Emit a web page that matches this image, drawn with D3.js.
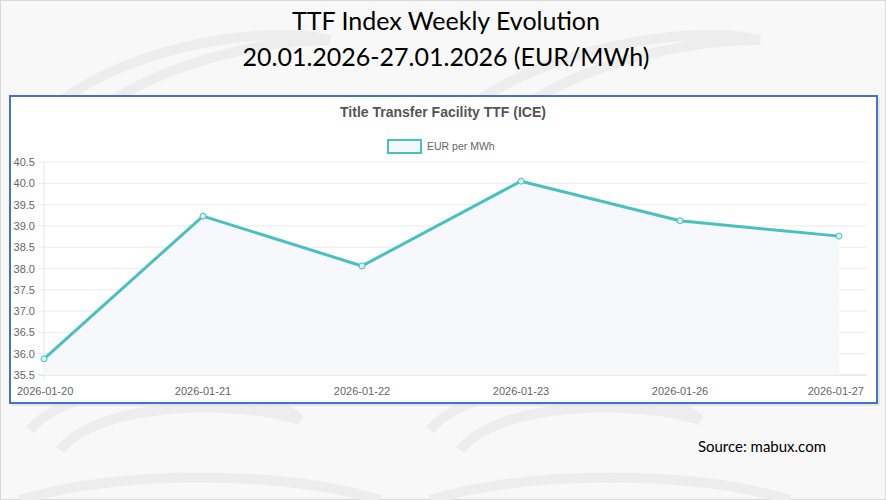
<!DOCTYPE html>
<html>
<head>
<meta charset="utf-8">
<script src="https://cdn.jsdelivr.net/npm/d3@7"></script>
<style>
  body { margin: 0; background: #ffffff; }
  svg { display: block; }
</style>
</head>
<body>
<div id="chart"></div>
<script>
// data
const dates = ["2026-01-20", "2026-01-21", "2026-01-22", "2026-01-23", "2026-01-26", "2026-01-27"];
const values = [35.88, 39.23, 38.06, 40.05, 39.12, 38.76];
const yTicks = [35.5, 36.0, 36.5, 37.0, 37.5, 38.0, 38.5, 39.0, 39.5, 40.0, 40.5];
const seriesName = "EUR per MWh";

const width = 886, height = 500;
const teal = "#4bc0c0";

const svg = d3.select("#chart").append("svg")
  .attr("width", width)
  .attr("height", height);

// slide background
svg.append("rect")
  .attr("x", 0.5).attr("y", 0.5)
  .attr("width", width - 1).attr("height", height - 1)
  .attr("fill", "#f8f8f8")
  .attr("stroke", "#d9d9d9");

// watermark swooshes (the logo letters are left out so they don't sit on the title)
const wm = svg.append("g").attr("fill", "none").attr("stroke", "#ededed").attr("stroke-width", 10);
wm.append("path").attr("d", "M20,150 C60,60 250,20 330,40 C240,40 110,80 70,140");
wm.append("path").attr("d", "M430,150 C480,60 680,20 760,40 C660,40 530,80 490,140");
wm.append("path").attr("d", "M30,430 C80,370 260,380 300,420 C240,400 100,400 60,450");
wm.append("path").attr("d", "M430,430 C480,370 660,380 700,420 C640,400 500,400 460,450");
wm.append("path").attr("d", "M20,500 C120,470 280,470 380,500");
wm.append("path").attr("d", "M430,500 C530,470 690,470 790,500");

// slide title
const titleFont = "Lato, 'Open Sans', sans-serif";
svg.append("text")
  .attr("x", 446).attr("y", 30)
  .attr("text-anchor", "middle")
  .attr("font-family", titleFont)
  .attr("font-size", 25)
  .attr("fill", "#000")
  .text("TTF Index Weekly Evolution");
svg.append("text")
  .attr("x", 446).attr("y", 66)
  .attr("text-anchor", "middle")
  .attr("font-family", titleFont)
  .attr("font-size", 25)
  .attr("fill", "#000")
  .text("20.01.2026-27.01.2026 (EUR/MWh)");

// chart box
svg.append("rect")
  .attr("x", 12).attr("y", 98)
  .attr("width", 868).attr("height", 308)
  .attr("fill", "#d8d8d8")
  .attr("opacity", 0.6);
svg.append("rect")
  .attr("x", 10).attr("y", 96)
  .attr("width", 867).attr("height", 307)
  .attr("fill", "#ffffff")
  .attr("stroke", "#4472c4")
  .attr("stroke-width", 2);

const chartFont = "'Liberation Sans', Arial, sans-serif";

svg.append("text")
  .attr("x", 443).attr("y", 117)
  .attr("text-anchor", "middle")
  .attr("font-family", chartFont)
  .attr("font-size", 14)
  .attr("font-weight", "bold")
  .attr("fill", "#555")
  .text("Title Transfer Facility TTF (ICE)");

// legend
svg.append("rect")
  .attr("x", 388).attr("y", 140)
  .attr("width", 33).attr("height", 13)
  .attr("fill", "#f3f8fa")
  .attr("stroke", teal)
  .attr("stroke-width", 2);
svg.append("text")
  .attr("x", 427).attr("y", 150)
  .attr("font-family", chartFont)
  .attr("font-size", 10.5)
  .attr("fill", "#666")
  .text(seriesName);

// scales
const x = d3.scalePoint()
  .domain(dates)
  .range([44, 839]);

const y = d3.scaleLinear()
  .domain([35.5, 40.5])
  .range([375, 162]);

const gridRight = 867;

// y grid + labels
const yAxis = svg.append("g");
yAxis.selectAll("line")
  .data(yTicks)
  .join("line")
  .attr("x1", 38).attr("x2", gridRight)
  .attr("y1", d => y(d)).attr("y2", d => y(d))
  .attr("stroke", d => d === 35.5 ? "#d6d6d6" : "#ebebeb")
  .attr("stroke-width", 1);
yAxis.selectAll("text")
  .data(yTicks)
  .join("text")
  .attr("x", 35)
  .attr("y", d => y(d) + 4)
  .attr("text-anchor", "end")
  .attr("font-family", chartFont)
  .attr("font-size", 11)
  .attr("fill", "#666")
  .text(d => d3.format(".1f")(d));

// left vertical gridline
svg.append("line")
  .attr("x1", x(dates[0])).attr("x2", x(dates[0]))
  .attr("y1", y(40.5)).attr("y2", y(35.5) + 5)
  .attr("stroke", "#e6e6e6");

// x labels
svg.append("g").selectAll("text")
  .data(dates)
  .join("text")
  .attr("x", (d, i) => i === 0 ? 17 : (i === dates.length - 1 ? 864 : x(d)))
  .attr("y", 395)
  .attr("text-anchor", (d, i) => i === 0 ? "start" : (i === dates.length - 1 ? "end" : "middle"))
  .attr("font-family", chartFont)
  .attr("font-size", 11)
  .attr("fill", "#666")
  .text(d => d);

// area + line
const pts = dates.map((d, i) => ({ date: d, value: values[i] }));

svg.append("path")
  .datum(pts)
  .attr("fill", "#f6f8fb")
  .attr("d", d3.area()
    .x(d => x(d.date))
    .y0(y(35.5))
    .y1(d => y(d.value)));

svg.append("path")
  .datum(pts)
  .attr("fill", "none")
  .attr("stroke", teal)
  .attr("stroke-width", 3)
  .attr("stroke-linejoin", "round")
  .attr("d", d3.line()
    .x(d => x(d.date))
    .y(d => y(d.value)));

svg.append("g").selectAll("circle")
  .data(pts)
  .join("circle")
  .attr("cx", d => x(d.date))
  .attr("cy", d => y(d.value))
  .attr("r", 3)
  .attr("fill", "#d7eff0")
  .attr("stroke", teal)
  .attr("stroke-width", 1);

// source
svg.append("text")
  .attr("x", 826).attr("y", 452)
  .attr("text-anchor", "end")
  .attr("font-family", titleFont)
  .attr("font-size", 15)
  .attr("fill", "#000")
  .text("Source: mabux.com");
</script>
</body>
</html>
